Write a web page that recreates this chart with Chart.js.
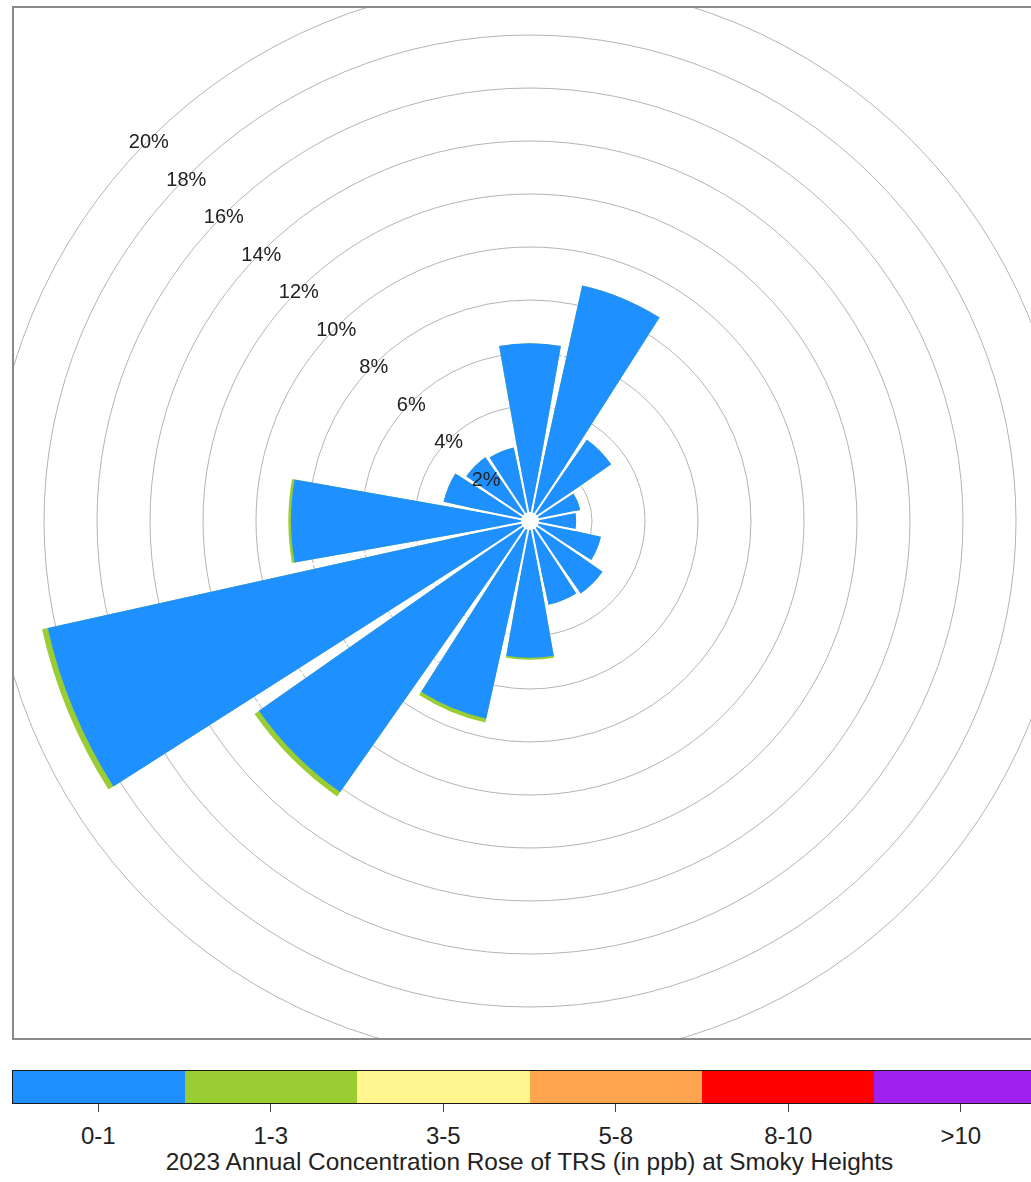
<!DOCTYPE html>
<html>
<head>
<meta charset="utf-8">
<script src="https://cdn.jsdelivr.net/npm/chart.js@4/dist/chart.umd.min.js"></script>
<style>
  html, body { margin: 0; padding: 0; background: #fff; }
  body { width: 1031px; height: 1182px; overflow: hidden; position: relative; font-family: "Liberation Sans", Arial, sans-serif; color: #222; }
  #frame { position: absolute; left: 12px; top: 6px; width: 1036px; height: 1034px; border: 2px solid #8a8a8a; box-sizing: border-box; overflow: hidden; }
  #rose { position: absolute; left: -34px; top: -37px; }
  #cbar { position: absolute; left: 12px; top: 1070px; width: 1035px; height: 34px; border: 1px solid #1a1a1a; box-sizing: border-box; display: flex; }
  #cbar div { flex: 1; height: 100%; }
  .tick { position: absolute; top: 1104px; width: 1px; height: 8px; background: #444; }
  .blabel { position: absolute; top: 1136px; transform: translate(-50%, -50%); font-size: 24px; white-space: nowrap; }
  #title { position: absolute; left: 529.5px; top: 1162px; transform: translate(-50%, -50%); font-size: 24.4px; white-space: nowrap; }
</style>
</head>
<body>
<div id="frame"><canvas id="rose" width="1100" height="1100"></canvas></div>
<div id="cbar"></div>
<div id="title">2023 Annual Concentration Rose of TRS (in ppb) at Smoky Heights</div>
<script>
// ---- data ----
const directions = ['N','NNE','NE','ENE','E','ESE','SE','SSE','S','SSW','SW','WSW','W','WNW','NW','NNW'];
const conc0to1 = [6.37, 8.76, 3.4, 1.6, 1.4, 2.4, 3.0, 2.9, 4.82, 7.3, 12.15, 18.3, 8.68, 3.0, 2.6, 2.5];
const conc1to3 = [0, 0, 0, 0, 0, 0, 0, 0, 0.08, 0.15, 0.2, 0.22, 0.1, 0, 0, 0];
const ringTicks = [2, 4, 6, 8, 10, 12, 14, 16, 18, 20];
const binLabels = ['0-1', '1-3', '3-5', '5-8', '8-10', '>10'];
const binColors = ['#1E90FF', '#9ACD32', '#FFF68F', '#FFA54F', '#FF0000', '#A020F0'];

// ---- scale layout ----
const pxPerPct = 26.5;
const holePx = 9;
const halfCanvas = 550;
const rMin = -holePx / pxPerPct;
const rMax = halfCanvas / pxPerPct + rMin;
const sectorDeg = 20;
const gapDeg = 360 / directions.length - sectorDeg;

const totals = conc0to1.map((v, i) => v + conc1to3[i]);
// each direction sector is followed by an empty gap sector
const interleave = (arr) => arr.flatMap(v => [v, rMin]);
const roseLabels = directions.flatMap(d => [d, '']);

const rosePlugin = {
  id: 'rosePlugin',
  afterDatasetsDraw(chart) {
    const ctx = chart.ctx;
    const scale = chart.scales.r;
    const cx = scale.xCenter, cy = scale.yCenter;
    const metas = chart.data.datasets.map((d, i) => chart.getDatasetMeta(i));
    const m = roseLabels.length;
    ctx.save();
    ctx.strokeStyle = '#ffffff';
    ctx.lineWidth = 2;
    for (let j = 1; j < m; j += 2) {
      const gap = metas[0].data[j];
      const a = (gap.startAngle + gap.endAngle) / 2;
      const before = metas.map(mt => mt.data[j - 1].outerRadius);
      const after = metas.map(mt => mt.data[(j + 1) % m].outerRadius);
      const len = Math.min(Math.max(...before), Math.max(...after)) + 1;
      ctx.beginPath();
      ctx.moveTo(cx, cy);
      ctx.lineTo(cx + len * Math.cos(a), cy + len * Math.sin(a));
      ctx.stroke();
    }
    // central hole
    ctx.beginPath();
    ctx.fillStyle = '#ffffff';
    ctx.arc(cx, cy, scale.getDistanceFromCenterForValue(0), 0, Math.PI * 2);
    ctx.fill();
    // ring labels
    ctx.fillStyle = '#222';
    ctx.font = '20px "Liberation Sans", Arial, sans-serif';
    ctx.textAlign = 'center';
    ctx.textBaseline = 'middle';
    ringTicks.forEach(v => {
      const r = scale.getDistanceFromCenterForValue(v);
      const k = Math.SQRT1_2;
      ctx.fillText(v + '%', cx - r * k, cy - r * k + 3);
    });
    ctx.restore();
  }
};

const sectorAngle = (c) => (c.dataIndex % 2 === 0 ? sectorDeg : gapDeg);
const sectorColor = (col) => (c) => (c.dataIndex % 2 === 0 ? col : 'rgba(0,0,0,0)');

new Chart(document.getElementById('rose'), {
  type: 'polarArea',
  data: {
    labels: roseLabels,
    datasets: [
      { label: binLabels[0], data: interleave(conc0to1), backgroundColor: sectorColor(binColors[0]), borderWidth: 0, angle: sectorAngle },
      { label: binLabels[1], data: interleave(totals), backgroundColor: sectorColor(binColors[1]), borderWidth: 0, angle: sectorAngle }
    ]
  },
  options: {
    responsive: false,
    animation: false,
    events: [],
    layout: { padding: 0 },
    plugins: { legend: { display: false }, tooltip: { enabled: false } },
    scales: {
      r: {
        min: rMin,
        max: rMax,
        startAngle: -sectorDeg / 2,
        angleLines: { display: false },
        pointLabels: { display: false },
        ticks: { display: false },
        grid: { circular: true, color: '#b4b4b4', lineWidth: 1 },
        afterBuildTicks: (s) => { s.ticks = ringTicks.map(v => ({ value: v })); }
      }
    }
  },
  plugins: [rosePlugin]
});

// ---- colour key ----
const cbar = document.getElementById('cbar');
const cbLeft = 12, cbWidth = 1035;
binColors.forEach((c, i) => {
  const seg = document.createElement('div');
  seg.style.background = c;
  cbar.appendChild(seg);
  const x = cbLeft + cbWidth * (i + 0.5) / binColors.length;
  const t = document.createElement('div');
  t.className = 'tick';
  t.style.left = (x - 0.5) + 'px';
  document.body.appendChild(t);
  const l = document.createElement('div');
  l.className = 'blabel';
  l.style.left = x + 'px';
  l.textContent = binLabels[i];
  document.body.appendChild(l);
});
</script>
</body>
</html>
